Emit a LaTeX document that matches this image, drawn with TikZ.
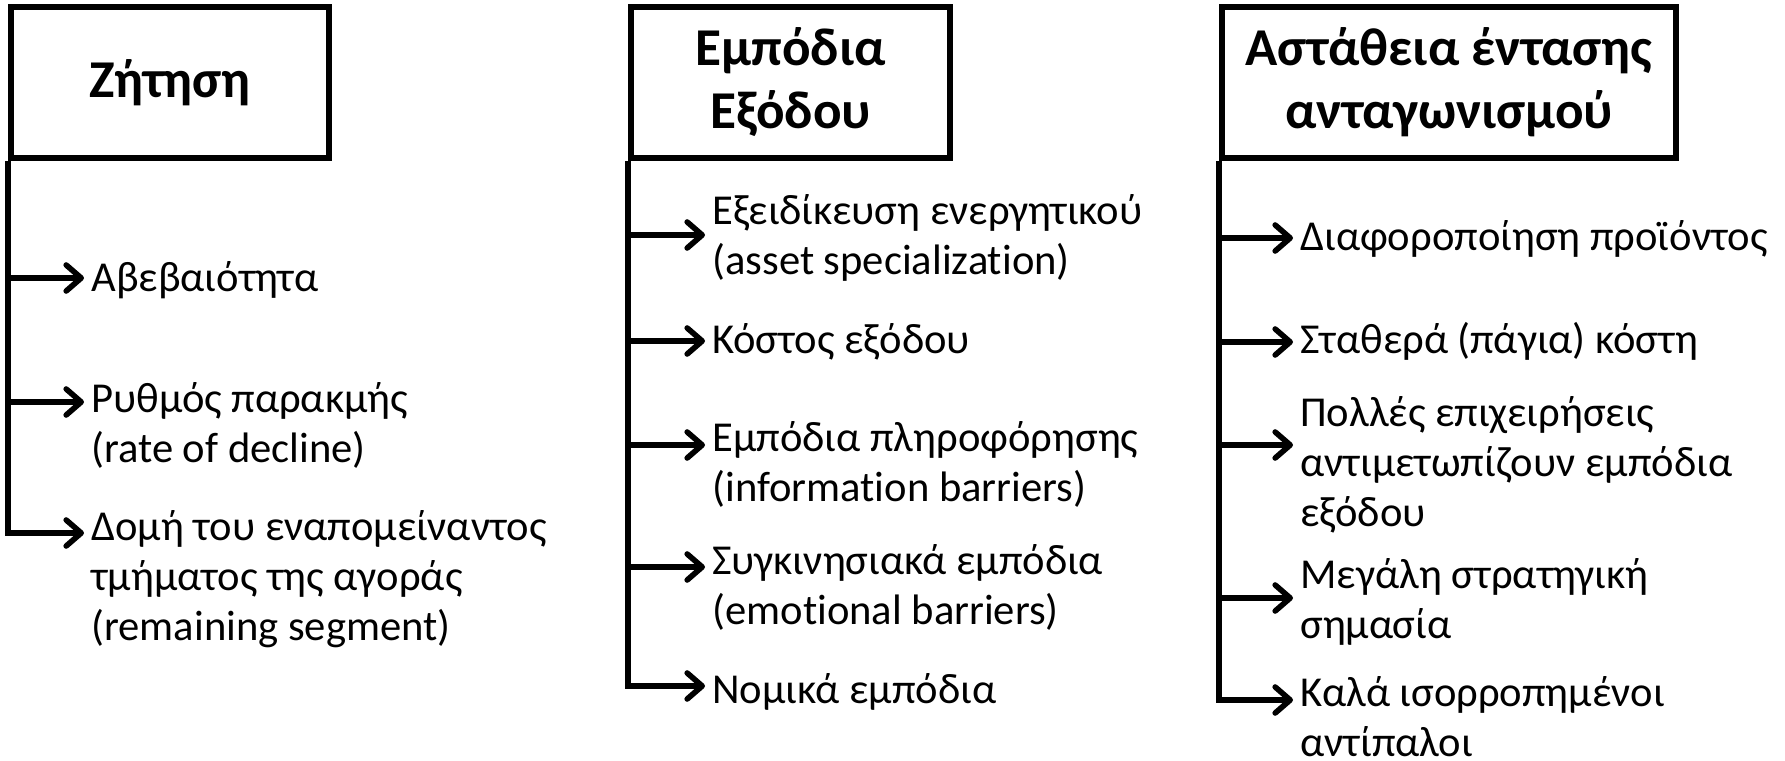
\documentclass[tikz,border=0pt]{standalone}
\usepackage{fontspec}
\setmainfont{Carlito}[Ligatures=NoCommon]
\usetikzlibrary{arrows.meta}

\begin{document}
\begin{tikzpicture}[x=0.5pt,y=-0.5pt,
	head/.style={draw,line width=2.8pt,inner sep=0,minimum height=75.5pt,align=center,font=\fontsize{26.6}{31.5}\selectfont\bfseries},
	item/.style={inner sep=0,anchor=base west,align=left,font=\fontsize{21.3}{25}\selectfont},
	arr/.style={line width=2.8pt,-{Straight Barb[length=7.5pt,width=13pt,round]},shorten >=3.5pt}]
	\useasboundingbox (0,0) rectangle (1785,761);
	% title boxes
	\node[head,minimum width=159pt] (h1) at (170,82.5) {Ζήτηση};
	\node[head,minimum width=159.5pt] (h2) at (790.5,82.5) {Εμπόδια\\Εξόδου};
	\node[head,minimum width=227pt] (h3) at (1449,82.5) {Αστάθεια έντασης\\ανταγωνισμού};
	% first column (y = baseline of the last line)
	\node[item] (a1) at (91,291) {Αβεβαιότητα};
	\node[item] (a2) at (91,462) {Ρυθμός παρακμής\\(rate of decline)};
	\node[item] (a3) at (91,640) {Δομή του εναπομείναντος\\τμήματος της αγοράς\\(remaining segment)};
	\coordinate (za1) at (11,278);
	\coordinate (za2) at (11,402);
	\coordinate (za3) at (11,533);
	\draw[arr] (za1) -- (za1 -| a1.west);
	\draw[arr] (za2) -- (za2 -| a2.west);
	\draw[arr] (h1.south west) |- (za3 -| a3.west);
	% second column
	\node[item] (b1) at (712,274) {Εξειδίκευση ενεργητικού\\(asset specialization)};
	\node[item] (b2) at (712,353) {Κόστος εξόδου};
	\node[item] (b3) at (712,501) {Εμπόδια πληροφόρησης\\(information barriers)};
	\node[item] (b4) at (712,624) {Συγκινησιακά εμπόδια\\(emotional barriers)};
	\node[item] (b5) at (712,703) {Νομικά εμπόδια};
	\coordinate (zb1) at (631,235);
	\coordinate (zb2) at (631,341);
	\coordinate (zb3) at (631,445);
	\coordinate (zb4) at (631,567);
	\coordinate (zb5) at (631,686);
	\draw[arr] (zb1) -- (zb1 -| b1.west);
	\draw[arr] (zb2) -- (zb2 -| b2.west);
	\draw[arr] (zb3) -- (zb3 -| b3.west);
	\draw[arr] (zb4) -- (zb4 -| b4.west);
	\draw[arr] (h2.south west) |- (zb5 -| b5.west);
	% third column
	\node[item] (c1) at (1300,250) {Διαφοροποίηση προϊόντος};
	\node[item] (c2) at (1300,353) {Σταθερά (πάγια) κόστη};
	\node[item] (c3) at (1300,526) {Πολλές επιχειρήσεις\\αντιμετωπίζουν εμπόδια\\εξόδου};
	\node[item] (c4) at (1300,638.5) {Μεγάλη στρατηγική\\σημασία};
	\node[item] (c5) at (1300,756) {Καλά ισορροπημένοι\\αντίπαλοι};
	\coordinate (zc1) at (1222,238);
	\coordinate (zc2) at (1222,342);
	\coordinate (zc3) at (1222,445);
	\coordinate (zc4) at (1222,598);
	\coordinate (zc5) at (1222,700);
	\draw[arr] (zc1) -- (zc1 -| c1.west);
	\draw[arr] (zc2) -- (zc2 -| c2.west);
	\draw[arr] (zc3) -- (zc3 -| c3.west);
	\draw[arr] (zc4) -- (zc4 -| c4.west);
	\draw[arr] (h3.south west) |- (zc5 -| c5.west);
\end{tikzpicture}
\end{document}
